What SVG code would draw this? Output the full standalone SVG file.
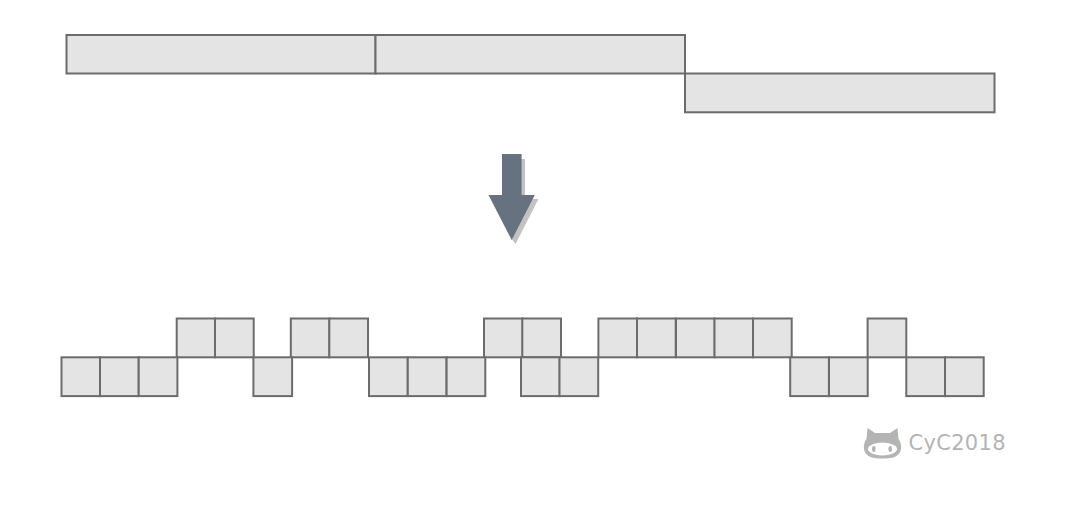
<svg xmlns="http://www.w3.org/2000/svg" width="1066" height="528" viewBox="0 0 1066 528">
<style>
.c{fill:#e4e4e4;stroke:#6c6c6c;stroke-width:2}
.t{font-family:"DejaVu Sans","Liberation Sans",sans-serif;font-size:21px;fill:#b4b4b4;letter-spacing:.3px}
</style>
<defs><rect id="s" class="c" width="38.7" height="38.800"/></defs>
<rect width="1066" height="528" fill="#fff"/>
<g id="source-blocks">
<rect id="block-1" class="c" x="66.500" y="35" width="309" height="38.500"/>
<rect id="block-2" class="c" x="375.500" y="35" width="309.500" height="38.500"/>
<rect id="block-3" class="c" x="685" y="73.500" width="309.500" height="38.800"/>
</g>
<g id="arrow">
<path fill="#c2c2c2" d="M521 159H525V199H538.500L515.500 244L511 238Z"/>
<path fill="#66727f" d="M502 154H521.600V195H534.800L511.700 240L488.500 195H502Z"/>
</g>
<g id="top-row">
<use href="#s" x="176.700" y="318.500"/><use href="#s" x="215" y="318.500"/>
<use href="#s" x="290.800" y="318.500"/><use href="#s" x="329.300" y="318.500"/>
<use href="#s" x="484" y="318.500"/><use href="#s" x="522.300" y="318.500"/>
<use href="#s" x="598.400" y="318.500"/><use href="#s" x="637" y="318.500"/><use href="#s" x="676" y="318.500"/><use href="#s" x="714.500" y="318.500"/><use href="#s" x="753" y="318.500"/>
<use href="#s" x="867.600" y="318.500"/>
</g>
<g id="bottom-row">
<use href="#s" x="61.500" y="357.300"/><use href="#s" x="100" y="357.300"/><use href="#s" x="138.700" y="357.300"/>
<use href="#s" x="253.400" y="357.300"/>
<use href="#s" x="369" y="357.300"/><use href="#s" x="407.800" y="357.300"/><use href="#s" x="446.600" y="357.300"/>
<use href="#s" x="521" y="357.300"/><use href="#s" x="559.500" y="357.300"/>
<use href="#s" x="790.200" y="357.300"/><use href="#s" x="829" y="357.300"/>
<use href="#s" x="906.300" y="357.300"/><use href="#s" x="945" y="357.300"/>
</g>
<g id="watermark">
<path fill="#b4b4b4" d="M867.500 428L875 433H890L897.500 428L898.500 439C901.500 443 902 449 899.500 453C896.500 457.500 891 458.500 882.500 458.500C874 458.500 868.500 457.500 865.500 453C863 449 863.500 443 866.500 439Z"/>
<ellipse cx="882.500" cy="449" rx="14.500" ry="6.500" fill="#fff"/>
<ellipse cx="873.800" cy="449" rx="1.800" ry="3" fill="#b4b4b4"/>
<ellipse cx="890.200" cy="449" rx="1.800" ry="3" fill="#b4b4b4"/>
<text class="t" x="908.500" y="449.500">CyC2018</text>
</g>
</svg>
